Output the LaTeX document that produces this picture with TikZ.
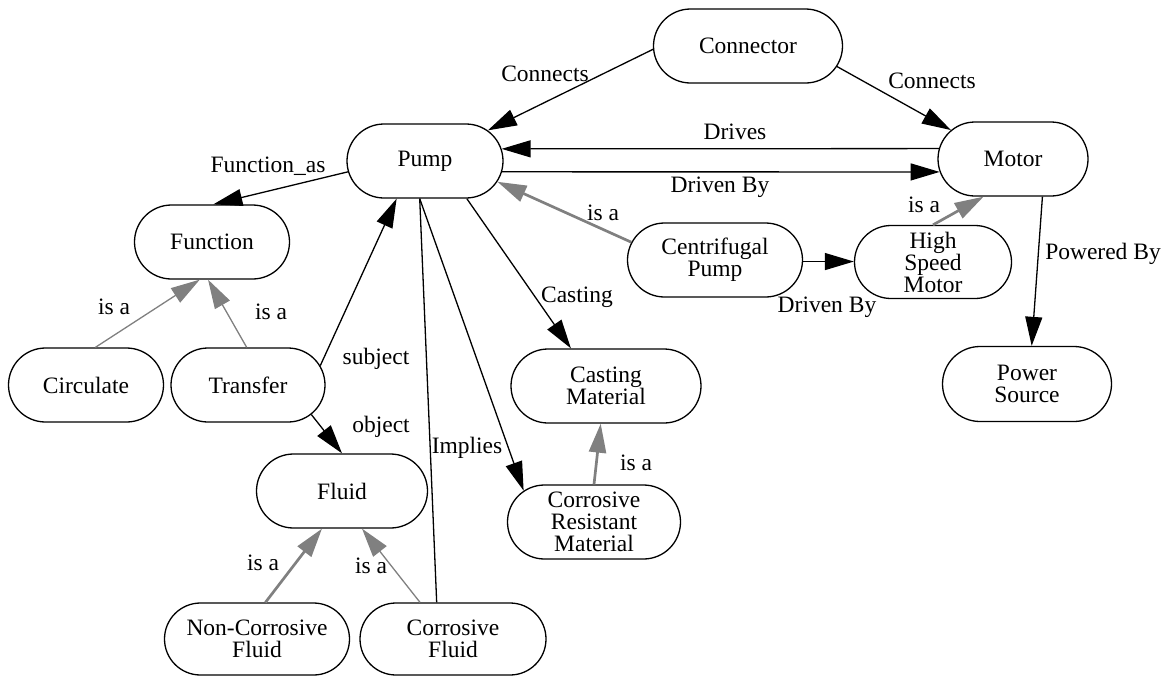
\documentclass[tikz,border=0pt]{standalone}
\usepackage{fontspec}
\setmainfont{Liberation Serif}
\usetikzlibrary{shapes.misc,arrows.meta,calc}
\newcommand\nfs{\fontsize{23.5}{22}\selectfont}
\definecolor{isagray}{RGB}{128,128,128}
\tikzset{
  concept/.style={rounded rectangle, draw, line width=1.3pt, minimum height=74pt,
    inner xsep=-40pt, inner ysep=0pt, align=center, font=\nfs},
  w/.style={minimum width={#1-79pt}},
  lbl/.style={inner sep=0pt, font=\nfs},
  rel/.style={line width=1.3pt, -{Triangle[length=29pt,width=17pt]}},
  plainrel/.style={line width=1.3pt},
  isathick/.style={draw=isagray, line width=2.7pt, -{Triangle[length=29pt,width=17pt]}},
  isathin/.style={draw=isagray, line width=1.3pt, -{Triangle[length=29pt,width=17pt]}},
}
\begin{document}
\begin{tikzpicture}[x=1pt,y=-1pt]
\useasboundingbox (0,0) rectangle (1164,675);
% nodes
\node[concept, w=188] (conn) at (748,46) {Connector};
\node[concept, w=155] (pump) at (425,161) {Pump};
\node[concept, w=149] (motor) at (1013,159) {Motor};
\node[concept, w=154] (func) at (212,242) {Function};
\node[concept, w=154] (circ) at (86,385) {Circulate};
\node[concept, w=153] (trans) at (248,385) {Transfer};
\node[concept, w=170] (fluid) at (342,491) {Fluid};
\node[concept, w=184, minimum height=72pt] (ncf) at (257,639) {Non-Corrosive\\Fluid};
\node[concept, w=185, minimum height=72pt] (cfluid) at (453,639) {Corrosive\\Fluid};
\node[concept, w=189] (castm) at (606,386) {Casting\\Material};
\node[concept, w=172] (crm) at (594,522) {Corrosive\\Resistant\\Material};
\node[concept, w=174] (cpump) at (715,260) {Centrifugal\\Pump};
\node[concept, w=156, minimum height=73pt] (hsm) at (933,262) {High\\Speed\\Motor};
\node[concept, w=168, minimum height=75pt] (power) at (1027,384) {Power\\Source};
% edges
\draw[rel] (conn.182) -- (pump.26);
\draw[rel] (conn.-13) -- (motor.155);
\draw[rel] (motor.172) -- (pump.9);
\draw[rel] (pump.-8) -- (motor.190);
\draw[rel] (pump.188.5) -- (func.88);
\draw[rel] (trans.15) -- (pump.233);
\draw[rel] (trans.-25) -- (fluid.90);
\draw[rel] (pump.-42) -- (castm.133);
\draw[rel] (pump.-98) -- (crm.156);
\draw[plainrel] (pump.-98) -- (cfluid.114);
\draw[isathick] (cpump.168) -- (pump.-16);
\draw[rel] (cpump.-1) -- (cpump.-1 -| hsm.west);
\draw[isathick] (hsm.90) -- (motor.232);
\draw[rel] (motor.-52) -- (power.83);
\draw[isathin] (circ.76) -- (func.252);
\draw[isathin] (trans.92) -- (func.264);
\draw[isathick] (ncf.77) -- (fluid.242);
\draw[isathin] (cfluid.132) -- (fluid.298);
\draw[isathick] (crm.90) -- (castm.262);
% labels
\node[lbl] (l1) at (545,74) {Connects};
\node[lbl] (l2) at (932,81) {Connects};
\node[lbl] (l3) at (735,132) {Drives};
\node[lbl] (l4) at (720,187) {Driven By};
\node[lbl] (l5) at (268,166) {Function\_as};
\node[lbl] (l6) at (114,307) {is a};
\node[lbl] (l7) at (271,312) {is a};
\node[lbl] (l8) at (376,359) {subject};
\node[lbl] (l9) at (381,427) {object};
\node[lbl] (l10) at (467,448) {Implies};
\node[lbl] (l11) at (577,297) {Casting};
\node[lbl] (l12) at (603,213) {is a};
\node[lbl] (l13) at (636,463) {is a};
\node[lbl] (l14) at (827,307) {Driven By};
\node[lbl] (l15) at (924,205) {is a};
\node[lbl] (l16) at (1103,254) {Powered By};
\node[lbl] (l17) at (263,563) {is a};
\node[lbl] (l18) at (371,566) {is a};
\end{tikzpicture}
\end{document}
